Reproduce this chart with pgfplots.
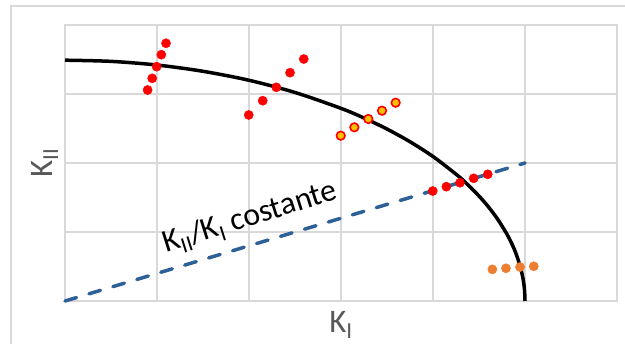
\documentclass[border=0pt]{standalone}
\usepackage{pgfplots}
\pgfplotsset{compat=1.18}
\usepackage{fontspec}
\setmainfont{Carlito}
\definecolor{gridgray}{HTML}{D9D9D9}
\definecolor{labgray}{HTML}{595959}
\definecolor{dblue}{RGB}{44,96,150}
\definecolor{myorange}{HTML}{ED7D31}
\definecolor{myyellow}{HTML}{FFC000}
\begin{document}
\begin{tikzpicture}[x=1bp,y=1bp]
\useasboundingbox (0,0) rectangle (625,343);
\draw[gridgray,line width=1.5bp] (11,337) rectangle (700,-50);
\begin{axis}[
  at={(65bp,42bp)}, anchor=south west,
  scale only axis, width=552bp, height=276bp,
  xmin=0, xmax=6, ymin=0, ymax=4,
  xtick={0,1,2,3,4,5,6}, ytick={0,1,2,3,4},
  xticklabels={}, yticklabels={},
  major tick length=0pt,
  grid=major,
  grid style={gridgray, line width=1.5bp},
  axis line style={gridgray, line width=1.5bp},
  clip=false,
]
% dashed line
\addplot[dblue, line width=3.5bp, dash pattern=on 12bp off 13bp, line cap=round] coordinates {(0,0) (5,2)};
% black curve
\addplot[black, line width=3.5bp, smooth, tension=0.5] coordinates {
(0,3.49) (0.5,3.473) (1,3.420) (1.5,3.329) (2,3.199) (2.5,3.022) (3,2.792)
(3.25,2.652) (3.5,2.492) (3.75,2.308) (4,2.094) (4.25,1.838) (4.35,1.721)
(4.5,1.521) (4.6,1.368) (4.7,1.191) (4.8,0.977) (4.85,0.849) (4.9,0.695)
(4.95,0.492) (4.98,0.312) (4.995,0.156) (5,0)};
% red group 1
\addplot[only marks, mark=*, mark size=4.6bp, color=red] coordinates {
(0.898,3.058) (0.948,3.227) (0.996,3.396) (1.047,3.570) (1.098,3.735)};
% red group 2
\addplot[only marks, mark=*, mark size=4.6bp, color=red] coordinates {
(1.997,2.696) (2.149,2.903) (2.297,3.097) (2.446,3.309) (2.595,3.507)};
% yellow group
\addplot[only marks, mark=*, mark size=4.3bp, mark options={draw=red, fill=myyellow, line width=1.6bp}] coordinates {
(2.997,2.396) (3.145,2.517) (3.297,2.638) (3.446,2.758) (3.594,2.874)};
% red group along line
\addplot[only marks, mark=*, mark size=4.6bp, color=red] coordinates {
(3.997,1.594) (4.145,1.657) (4.293,1.714) (4.442,1.778) (4.595,1.836)};
% orange group
\addplot[only marks, mark=*, mark size=4.6bp, color=myorange] coordinates {
(4.645,0.459) (4.793,0.474) (4.946,0.493) (5.095,0.503)};
\end{axis}
\node[anchor=base, text=labgray, font=\fontsize{33}{38}\selectfont] at (341,11) {K\textsubscript{I}};
\node[anchor=base, rotate=90, text=labgray, font=\fontsize{33}{38}\selectfont] at (52,180) {K\textsubscript{II}};
\node[anchor=base west, rotate=17.5, text=black, font=\fontsize{32}{36}\selectfont, inner sep=0pt] at (166,90) {K\textsubscript{II}/K\textsubscript{I} costante};
\end{tikzpicture}
\end{document}
